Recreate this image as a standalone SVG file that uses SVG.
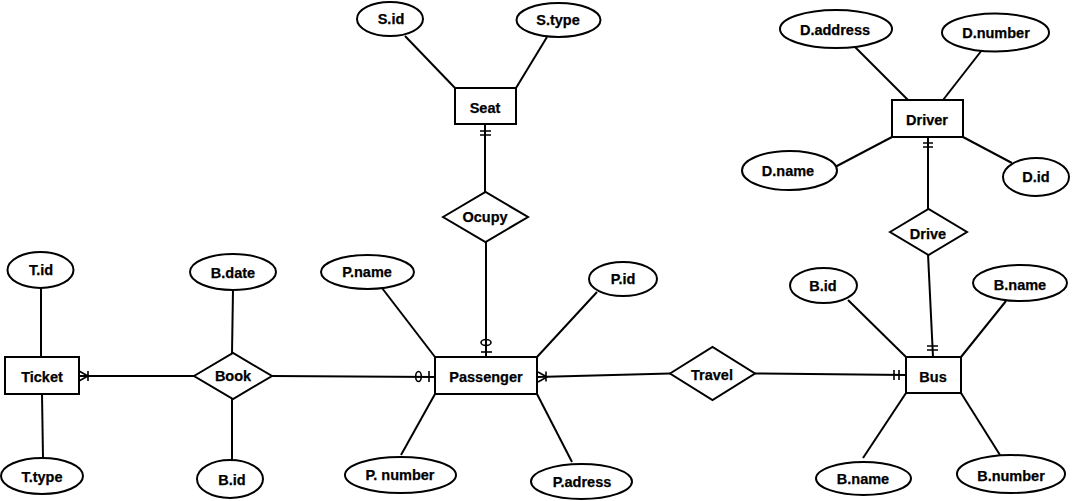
<svg xmlns="http://www.w3.org/2000/svg" width="1072" height="501" viewBox="0 0 1072 501">
  <style>
    .shape { fill: #ffffff; stroke: #000000; stroke-width: 2; }
    .link { stroke: #000000; stroke-width: 2; fill: none; }
    .mark { stroke: #000000; stroke-width: 1.6; fill: none; }
    text { font-family: "Liberation Sans", Arial, sans-serif; font-weight: bold; font-size: 14.5px; text-anchor: middle; fill: #000000; stroke: #000000; stroke-width: 0.25; }
  </style>
  <rect width="1072" height="501" fill="#ffffff"/>

  <!-- connectors -->
  <g id="connectors">
    <!-- Ticket attributes -->
    <line class="link" x1="41" y1="288" x2="41" y2="357"/>
    <line class="link" x1="42" y1="394" x2="43" y2="458"/>
    <!-- Book attributes -->
    <line class="link" x1="233" y1="290" x2="232" y2="353"/>
    <line class="link" x1="232" y1="399" x2="232" y2="460"/>
    <!-- Ticket - Book (one or many at Ticket) -->
    <line class="link" x1="79" y1="376" x2="194" y2="376"/>
    <path class="mark" d="M79,371 L88,376 L79,381 M88,371 L88,381"/>
    <!-- Book - Passenger (zero or one at Passenger) -->
    <line class="link" x1="272" y1="376" x2="435" y2="377"/>
    <ellipse class="mark" cx="418.5" cy="376.5" rx="2.8" ry="5" fill="#ffffff"/>
    <line class="mark" x1="429" y1="371" x2="429" y2="382"/>
    <!-- Passenger attributes -->
    <line class="link" x1="382" y1="288" x2="435" y2="357"/>
    <line class="link" x1="597" y1="292" x2="537" y2="357"/>
    <line class="link" x1="435" y1="394" x2="401" y2="455"/>
    <line class="link" x1="537" y1="394" x2="572" y2="462"/>
    <!-- Passenger - Travel (one or many at Passenger) -->
    <line class="link" x1="537" y1="377" x2="670" y2="373.5"/>
    <path class="mark" d="M538,372 L547,377 L538,382 M546,371.5 L546,381.5"/>
    <!-- Travel - Bus (one and only one at Bus) -->
    <line class="link" x1="755" y1="373.5" x2="906" y2="375"/>
    <path class="mark" d="M894,370 L894,380 M899,370 L899,380"/>
    <!-- Seat attributes -->
    <line class="link" x1="405" y1="36" x2="455" y2="88"/>
    <line class="link" x1="547" y1="37" x2="516" y2="88"/>
    <!-- Seat - Ocupy (one and only one at Seat) -->
    <line class="link" x1="485" y1="124" x2="485" y2="192"/>
    <path class="mark" d="M480,131 L491,131 M480,135 L491,135"/>
    <!-- Ocupy - Passenger (zero or one at Passenger) -->
    <line class="link" x1="486" y1="242" x2="486" y2="357"/>
    <ellipse class="mark" cx="486" cy="342.5" rx="5" ry="3" fill="#ffffff"/>
    <line class="mark" x1="481" y1="352" x2="492" y2="352"/>
    <!-- Driver attributes -->
    <line class="link" x1="855" y1="47" x2="908" y2="100"/>
    <line class="link" x1="982" y1="50" x2="943" y2="100"/>
    <line class="link" x1="835" y1="167" x2="892" y2="137"/>
    <line class="link" x1="963" y1="137" x2="1012" y2="163"/>
    <!-- Driver - Drive (one and only one at Driver) -->
    <line class="link" x1="928" y1="137" x2="928" y2="209"/>
    <path class="mark" d="M923,143 L933,143 M923,147 L933,147"/>
    <!-- Drive - Bus (one and only one at Bus) -->
    <line class="link" x1="928" y1="254" x2="933" y2="357"/>
    <path class="mark" d="M927,346 L938,346 M927,350 L938,350"/>
    <!-- Bus attributes -->
    <line class="link" x1="848" y1="300" x2="906" y2="357"/>
    <line class="link" x1="1006" y1="301" x2="961" y2="357"/>
    <line class="link" x1="906" y1="393" x2="863" y2="458"/>
    <line class="link" x1="961" y1="393" x2="1000" y2="455"/>
  </g>

  <!-- entities -->
  <g id="ticket"><rect class="shape" x="5" y="357" width="74" height="37"/><text x="42" y="382">Ticket</text></g>
  <g id="passenger"><rect class="shape" x="435" y="357" width="102" height="37"/><text x="486" y="382">Passenger</text></g>
  <g id="bus"><rect class="shape" x="906" y="357" width="55" height="36"/><text x="933" y="382">Bus</text></g>
  <g id="seat"><rect class="shape" x="455" y="88" width="61" height="36"/><text x="485" y="113">Seat</text></g>
  <g id="driver"><rect class="shape" x="892" y="100" width="71" height="37"/><text x="927" y="125">Driver</text></g>

  <!-- relationships -->
  <g id="book"><polygon class="shape" points="194,376 233,353 272,376 233,399"/><text x="233" y="381">Book</text></g>
  <g id="travel"><polygon class="shape" points="670,373.5 712.5,347 755,373.5 712.5,400"/><text x="712" y="380">Travel</text></g>
  <g id="ocupy"><polygon class="shape" points="443,217 485.5,192 528,217 485.5,242"/><text x="485" y="222">Ocupy</text></g>
  <g id="drive"><polygon class="shape" points="890,232 928.5,209 967,232 928.5,255"/><text x="928" y="239">Drive</text></g>

  <!-- attributes -->
  <g id="t-id"><ellipse class="shape" cx="40.5" cy="270" rx="33" ry="18"/><text x="41" y="275">T.id</text></g>
  <g id="t-type"><ellipse class="shape" cx="42" cy="476" rx="41" ry="18"/><text x="42" y="482">T.type</text></g>
  <g id="b-date"><ellipse class="shape" cx="233" cy="272" rx="43" ry="18"/><text x="233" y="278">B.date</text></g>
  <g id="book-b-id"><ellipse class="shape" cx="230" cy="479" rx="33" ry="19"/><text x="232" y="485">B.id</text></g>
  <g id="p-name"><ellipse class="shape" cx="367.5" cy="272" rx="46.5" ry="17"/><text x="367" y="277">P.name</text></g>
  <g id="p-id"><ellipse class="shape" cx="623" cy="279" rx="34" ry="17"/><text x="623" y="284">P.id</text></g>
  <g id="p-number"><ellipse class="shape" cx="400.5" cy="475" rx="55.5" ry="18"/><text x="400" y="480">P. number</text></g>
  <g id="p-adress"><ellipse class="shape" cx="581.5" cy="481.5" rx="50.5" ry="17.5"/><text x="582" y="487">P.adress</text></g>
  <g id="s-id"><ellipse class="shape" cx="390" cy="19" rx="33" ry="17"/><text x="391" y="24">S.id</text></g>
  <g id="s-type"><ellipse class="shape" cx="558.5" cy="20" rx="42" ry="17"/><text x="558" y="25">S.type</text></g>
  <g id="d-address"><ellipse class="shape" cx="836" cy="29" rx="56" ry="19"/><text x="835" y="35">D.address</text></g>
  <g id="d-number"><ellipse class="shape" cx="995.5" cy="32.5" rx="53.5" ry="19"/><text x="996" y="38">D.number</text></g>
  <g id="d-name"><ellipse class="shape" cx="789.5" cy="170.5" rx="47.5" ry="19.5"/><text x="788" y="176">D.name</text></g>
  <g id="d-id"><ellipse class="shape" cx="1036" cy="177" rx="33" ry="19"/><text x="1036" y="182">D.id</text></g>
  <g id="bus-b-id"><ellipse class="shape" cx="823.5" cy="285.5" rx="33.5" ry="17.5"/><text x="823" y="291">B.id</text></g>
  <g id="b-name-top"><ellipse class="shape" cx="1020" cy="283" rx="47" ry="18"/><text x="1020" y="290">B.name</text></g>
  <g id="b-name-bottom"><ellipse class="shape" cx="863.5" cy="478.5" rx="47.5" ry="16.5"/><text x="863" y="484">B.name</text></g>
  <g id="b-number"><ellipse class="shape" cx="1011" cy="474" rx="54" ry="19"/><text x="1011" y="481">B.number</text></g>
</svg>
